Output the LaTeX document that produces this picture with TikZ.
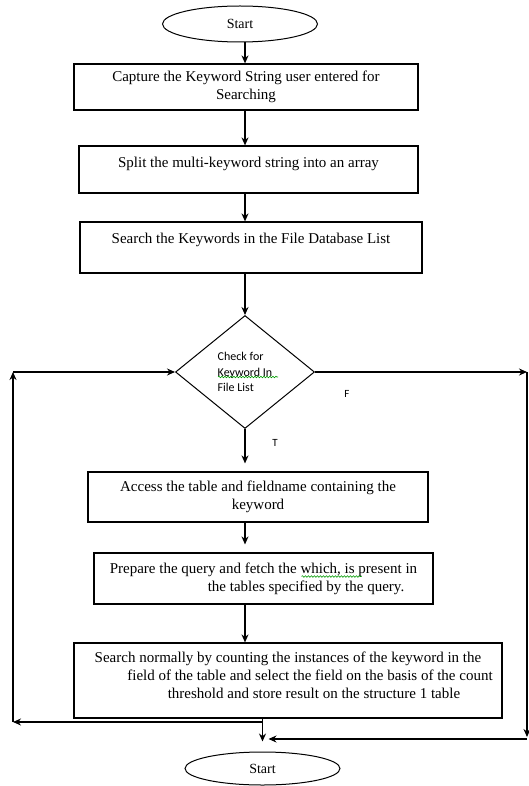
\documentclass[tikz,border=0pt]{standalone}
\usepackage{fontspec}
\setmainfont{Liberation Serif}
\newfontfamily\diafont{Carlito}
\usepackage{tikz}
\usetikzlibrary{shapes, arrows.meta, positioning, calc, decorations.pathmorphing}
\tikzset{
    process/.style={
        rectangle,
        draw=black,
        line width=1.2pt,
        align=center,
        inner sep=2pt,
        font=\fontsize{15}{18}\selectfont,
    },
    terminal/.style={
        ellipse,
        draw=black,
        line width=1pt,
        inner sep=0pt,
        font=\fontsize{14}{17}\selectfont,
    },
    decision/.style={
        diamond,
        draw=black,
        line width=1pt,
        inner sep=0pt,
        align=left,
        font=\diafont\fontsize{12}{15.5}\selectfont,
    },
    branch/.style={
        font=\diafont\fontsize{11}{13}\selectfont,
    },
    spell/.style={
        draw=green!60!black,
        line width=0.6pt,
        decorate,
        decoration={snake, amplitude=0.8pt, segment length=3pt},
    },
}
\begin{document}
\begin{tikzpicture}[x=1pt, y=-1pt, node distance=80pt, >={Stealth[length=8pt, width=7pt]}, line width=1.2pt]
      \useasboundingbox (0,0) rectangle (528,786);
      \node [terminal, minimum width=155pt, minimum height=36pt] (start) at (240,24) {Start};
      \node [process, minimum width=344pt, minimum height=46pt] (capture) [below of=start, node distance=63pt, xshift=6pt] {Capture the Keyword String user entered for\\Searching};
      \node [process, minimum width=339pt, minimum height=47pt] (split) [below of=capture, node distance=82.5pt, xshift=2.5pt] {Split the multi-keyword string into an array\\[-3pt]\mbox{}};
      \node [process, minimum width=342pt, minimum height=51pt] (search) [below of=split, node distance=78pt, xshift=2.5pt] {Search the Keywords in the File Database List\\[1pt]\mbox{}};
      \node [decision, minimum width=139pt, minimum height=113pt] (check) [below of=search, node distance=124.5pt, xshift=-6pt] {Check for\\Keyword In\\File List};
      \node [process, minimum width=340pt, minimum height=50pt] (access) [below of=check, node distance=125pt, xshift=13pt] {Access the table and fieldname containing the\\keyword};
      \node [process, minimum width=339pt, minimum height=51pt] (prepare) [below of=access, node distance=81.5pt, xshift=5.5pt] {Prepare the query and fetch the which, is present in\\\hspace*{85pt}the tables specified by the query.};
      \node [process, minimum width=428pt, minimum height=75pt] (searchn) [below of=prepare, node distance=102pt, xshift=24.5pt] {Search normally by counting the instances of the keyword in the\\\hspace*{44pt}field of the table and select the field on the basis of the count\\\hspace*{52pt}threshold and store result on the structure 1 table\\[-7pt]\mbox{}};
      \node [terminal, minimum width=155pt, minimum height=33pt] (stop) [below of=searchn, node distance=88pt, xshift=-25.5pt] {Start};

      \node [branch] (flabel) at (347,394) {F};
      \node [branch] (tlabel) at (275,443) {T};

      \coordinate (lbot) at (13,722);
      \coordinate (ltop) at (13,372);
      \coordinate (rtop) at (527,372);
      \coordinate (rbot) at (527,737);

      \draw[->] (start.south -| check) -- (capture.north -| check);
      \draw[->] (capture.south -| check) -- (split.north -| check);
      \draw[->] (split.south -| check) -- (search.north -| check);
      \draw[->] (search.south -| check) -- (check.north);
      \draw[->] (check.south) -- ($(access.north -| check)+(0,-8)$);
      \draw[->] (access.south -| check) -- ($(prepare.north -| check)+(0,-8)$);
      \draw[->] (prepare.south -| check) -- (searchn.north -| check);
      \draw[->] (searchn.south -| stop) -- ($(stop.north)+(0,-10)$);

      % loop back on the left, exit on the right
      \draw[->] (stop |- lbot) -- (lbot);
      \draw[->] (lbot) -- (ltop);
      \draw[->] (ltop) -- (check.west);
      \draw[->] (check.east) -- (rtop);
      \draw[->] (rtop) -- (rbot);
      \draw[->] ($(rbot)+(0,2)$) -- ($(stop |- rbot)+(6,2)$);

      \draw[spell] ($(check)+(-27,5)$) -- ++(60,0);
      \draw[spell] ($(prepare)+(38,-2)$) -- ++(60,0);
\end{tikzpicture}
\end{document}
